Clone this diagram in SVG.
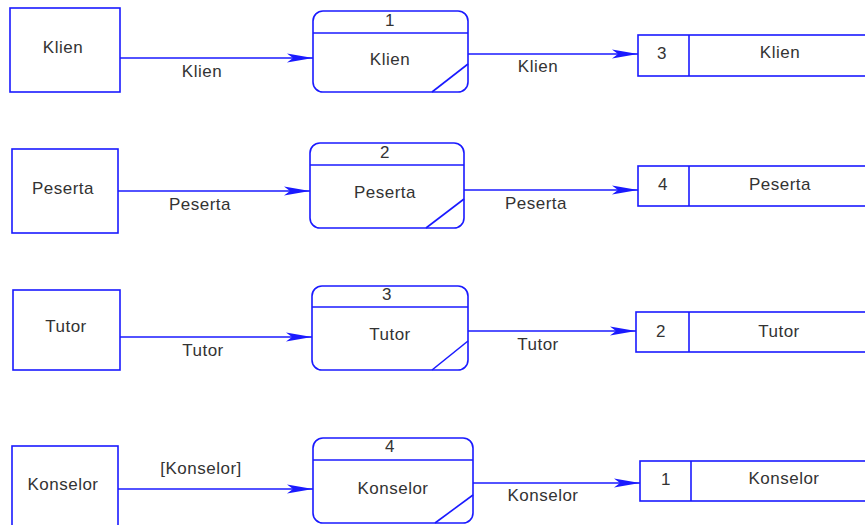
<svg xmlns="http://www.w3.org/2000/svg" width="865" height="525" viewBox="0 0 865 525">
<defs>
<marker id="arr" markerUnits="userSpaceOnUse" markerWidth="28" markerHeight="12" viewBox="0 0 28 12" refX="26" refY="6" orient="auto">
<path d="M0,1.5 L26,6 L0,10.5 L6,6 Z" fill="#1a1aff"/>
</marker>
</defs>
<style>
.b{fill:#fff;stroke:#1a1aff;stroke-width:1.6}
.l{fill:none;stroke:#1a1aff;stroke-width:1.6}
.c{fill:none;stroke:#1a1aff;stroke-width:1.3;marker-end:url(#arr)}
text{font-family:"Liberation Sans",Arial,sans-serif;font-size:17px;letter-spacing:0.5px;fill:#333;text-anchor:middle;dominant-baseline:central}
</style>
<rect width="865" height="525" fill="#fff"/>
<g id="connectors">
<line class="c" x1="120" y1="58" x2="313" y2="58"/>
<line class="c" x1="468" y1="54" x2="638" y2="54"/>
<line class="c" x1="118" y1="191" x2="310" y2="191"/>
<line class="c" x1="464" y1="190" x2="638" y2="190"/>
<line class="c" x1="120" y1="337" x2="312" y2="337"/>
<line class="c" x1="468" y1="331" x2="636" y2="331"/>
<line class="c" x1="118" y1="489" x2="313" y2="489"/>
<line class="c" x1="473" y1="483" x2="640" y2="483"/>
<text x="202" y="71">Klien</text>
<text x="538" y="66">Klien</text>
<text x="200" y="204">Peserta</text>
<text x="536" y="203">Peserta</text>
<text x="203" y="350">Tutor</text>
<text x="538" y="344">Tutor</text>
<text x="201" y="468">[Konselor]</text>
<text x="543" y="495">Konselor</text>
</g>
<g id="ext-klien"><rect class="b" x="10" y="8" width="110" height="84"/><text x="63" y="47">Klien</text></g>
<g id="ext-peserta"><rect class="b" x="12" y="149" width="106" height="84"/><text x="63" y="188">Peserta</text></g>
<g id="ext-tutor"><rect class="b" x="13" y="290" width="107" height="80"/><text x="66" y="326">Tutor</text></g>
<g id="ext-konselor"><rect class="b" x="12" y="446" width="106" height="90"/><text x="63" y="484">Konselor</text></g>
<g id="proc-1"><rect class="b" x="313" y="11" width="155" height="81" rx="10"/><line class="l" x1="313" y1="33" x2="468" y2="33"/><line class="l" x1="432" y1="92" x2="468" y2="64"/><text x="390" y="20">1</text><text x="390" y="59">Klien</text></g>
<g id="proc-2"><rect class="b" x="310" y="143" width="154" height="85" rx="10"/><line class="l" x1="310" y1="165" x2="464" y2="165"/><line class="l" x1="426" y1="228" x2="464" y2="199"/><text x="385" y="152">2</text><text x="385" y="192">Peserta</text></g>
<g id="proc-3"><rect class="b" x="312" y="286" width="156" height="84" rx="10"/><line class="l" x1="312" y1="307" x2="468" y2="307"/><line class="l" x1="432" y1="370" x2="468" y2="341"/><text x="387" y="294">3</text><text x="390" y="334">Tutor</text></g>
<g id="proc-4"><rect class="b" x="313" y="438" width="160" height="85" rx="10"/><line class="l" x1="313" y1="460" x2="473" y2="460"/><line class="l" x1="435" y1="523" x2="473" y2="495"/><text x="390" y="446">4</text><text x="393" y="488">Konselor</text></g>
<g id="store-3"><rect class="b" x="638" y="35" width="240" height="41"/><line class="l" x1="689" y1="35" x2="689" y2="76"/><text x="662" y="53">3</text><text x="780" y="52">Klien</text></g>
<g id="store-4"><rect class="b" x="638" y="166" width="240" height="40"/><line class="l" x1="689" y1="166" x2="689" y2="206"/><text x="663" y="184">4</text><text x="780" y="184">Peserta</text></g>
<g id="store-2"><rect class="b" x="636" y="312" width="240" height="40"/><line class="l" x1="689" y1="312" x2="689" y2="352"/><text x="661" y="331">2</text><text x="779" y="331">Tutor</text></g>
<g id="store-1"><rect class="b" x="640" y="461" width="240" height="40"/><line class="l" x1="691" y1="461" x2="691" y2="501"/><text x="666" y="479">1</text><text x="784" y="478">Konselor</text></g>
</svg>
